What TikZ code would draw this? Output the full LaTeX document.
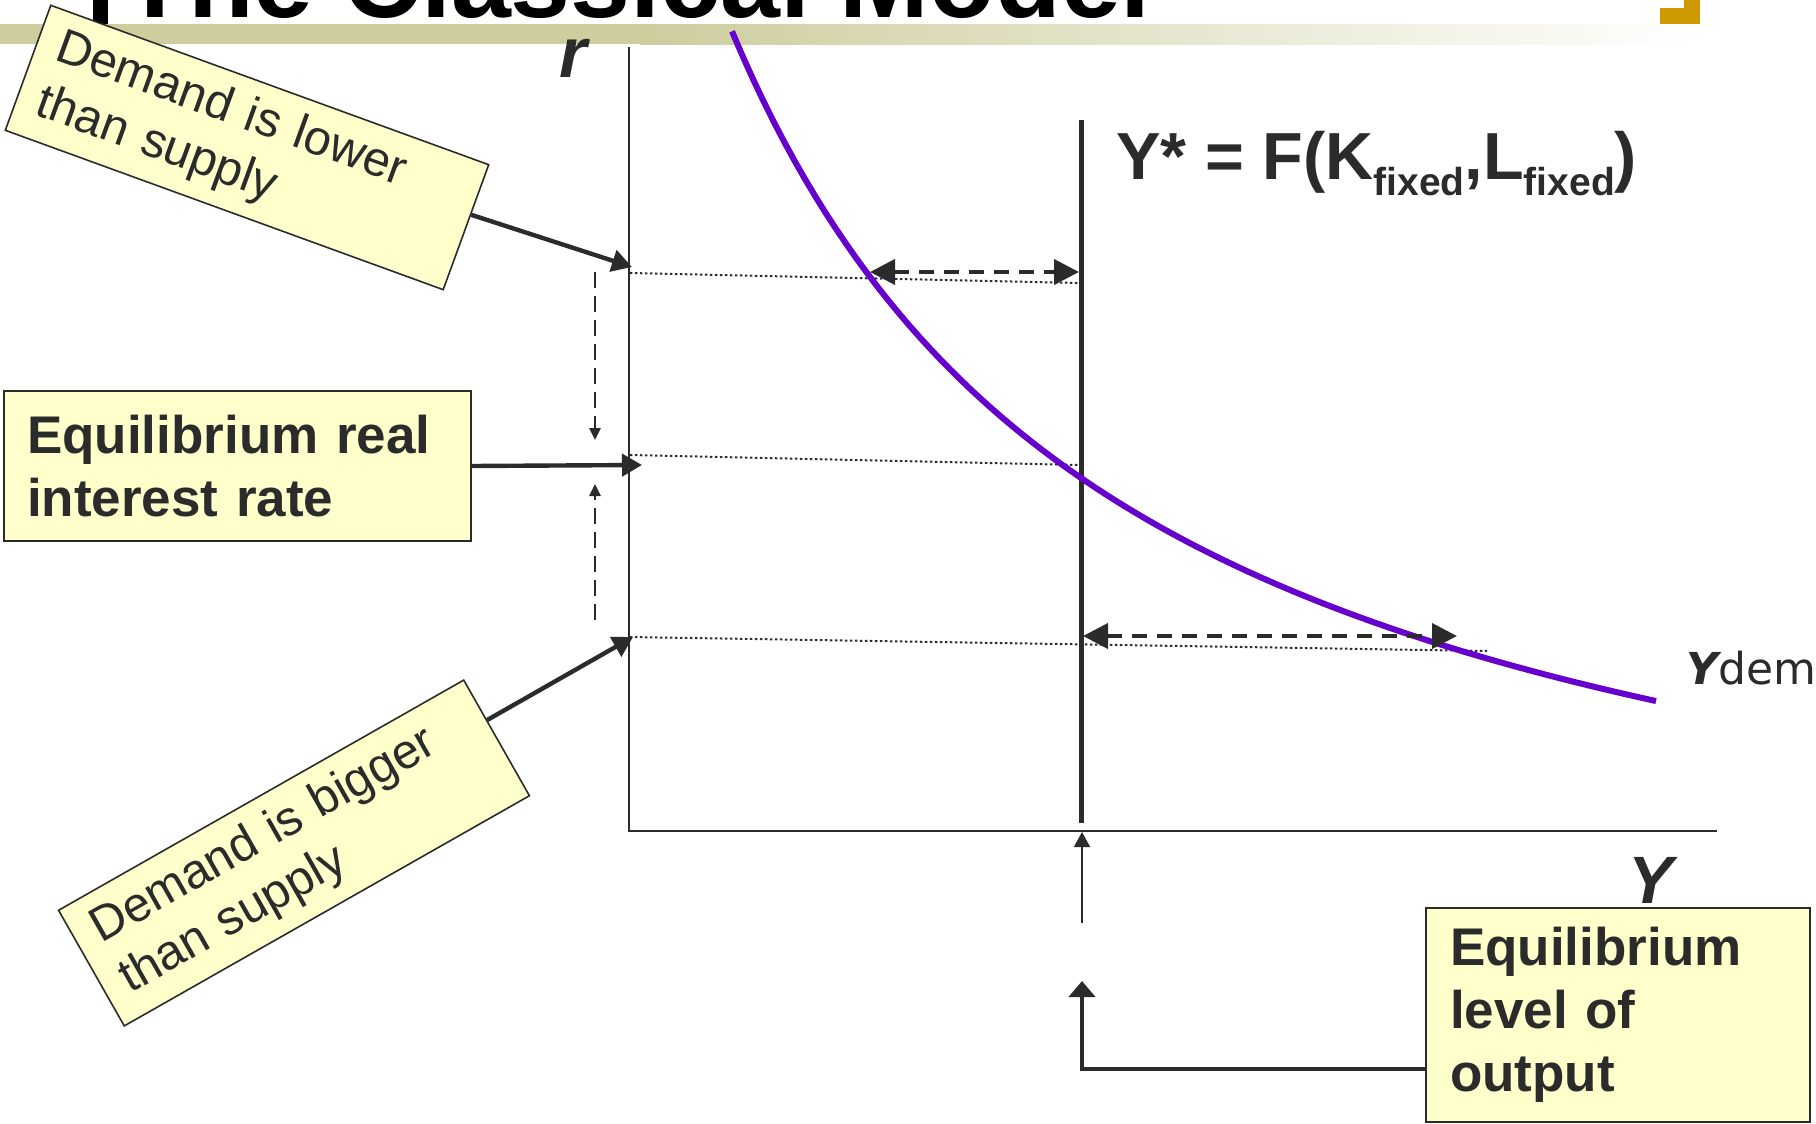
\documentclass[tikz,border=0pt]{standalone}
\usepackage{fontspec}
\setmainfont{Liberation Sans}
\newfontfamily\demfont{DejaVu Sans}
\usetikzlibrary{arrows.meta,calc}

\definecolor{ink}{HTML}{2B2B2B}
\definecolor{notefill}{HTML}{FFFFCC}
\definecolor{ydcurve}{HTML}{6600CC}
\definecolor{barolive}{HTML}{CDCD9E}
\definecolor{tabgold}{HTML}{CC9900}

\newcommand{\fx}{\raisebox{-8pt}{\fontsize{19.5}{19.5}\selectfont fixed}}

\begin{document}
\begin{tikzpicture}[x=0.5pt,y=-0.5pt,
	note/.style={draw=ink,line width=0.8pt,fill=notefill,text=ink,align=left,inner sep=0pt},
	slantnote/.style={note,font=\fontsize{24.4}{29}\selectfont,minimum width=233pt,minimum height=66.5pt,text width=212pt},
	boldnote/.style={note,font=\bfseries\fontsize{26.5}{31.5}\selectfont},
	conn/.style={draw=ink,line width=2.2pt,-{Triangle[length=10pt,width=11pt]}},
	gap/.style={draw=ink,line width=2pt,dash pattern=on 7.5pt off 5pt,{Triangle[length=12.5pt,width=12.5pt]}-{Triangle[length=12.5pt,width=12.5pt]}},
	nudge/.style={draw=ink,line width=1.3pt,dash pattern=on 8pt off 4pt,-{Triangle[length=6pt,width=5.5pt]}},
	guide/.style={draw=ink,line width=1pt,dash pattern=on 1.2pt off 1.3pt},
	axis/.style={draw=ink,line width=1pt}]

\useasboundingbox (0,0) rectangle (1816,1124);

\fill[barolive] (0,24) rectangle (640,44);
\shade[left color=barolive,right color=white] (640,24) rectangle (1700,44);
\node[anchor=base west,inner sep=0pt,font=\bfseries\fontsize{53.8}{60}\selectfont] (title) at (122,18) {The Classical Model};
\fill[black] (93,0) rectangle (108,24);
\fill[tabgold] (1660,8) rectangle (1700,24);
\fill[tabgold] (1684,0) rectangle (1700,8);

\draw[axis] (629,47) -- (629,831) -- (1717,831);
\node[anchor=base,inner sep=0pt,text=ink,font=\bfseries\itshape\fontsize{35.5}{40}\selectfont] (rlab) at (573,77) {r};
\node[anchor=base,inner sep=0pt,text=ink,font=\bfseries\itshape\fontsize{33.5}{40}\selectfont] (ylab) at (1651,903) {Y};

\draw[ink,line width=2.5pt] (1081,120) -- (1081,823);
\node[anchor=base west,inner sep=0pt,text=ink,font=\bfseries\fontsize{33.3}{38}\selectfont] (ystar) at (1116,179) {Y* = F(K\fx,L\fx)};

\draw[guide] (630,273) -- (1079,283);
\draw[guide] (630,455) -- (1079,465);
\draw[guide] (630,637) -- (1487,651);

\draw[ydcurve,line width=3pt] plot[domain=732:1656,samples=90] (\x,{992.4-386.323/((\x-330)/1000)});
\node[anchor=base west,inner sep=0pt,text=ink,font=\demfont\fontsize{22}{26}\selectfont] (ydem) at (1686,684) {{\bfseries\itshape Y}dem};

\draw[gap] (870,272) -- (1079,272);
\draw[gap] (1083,636) -- (1457,636);
\draw[nudge] (595,272) -- (595,440);
\draw[nudge] (595,620) -- (595,484);

\coordinate (rhi) at (632,267);
\coordinate (req) at (642,465);
\coordinate (rlo) at (633,637);
\coordinate (ytip) at (1082,981);
\coordinate (yfoot) at (1082,923);
\coordinate (yaxis) at (1082,832);

\node[slantnote,rotate=-20] (low) at (247,147.5) {Demand is lower\\than supply};
\node[boldnote,minimum width=233.5pt,minimum height=75pt,text width=210.5pt] (eqr) at (237.5,466) {Equilibrium real\\interest rate};
\node[slantnote,rotate=29.6] (big) at (294,853) {Demand is bigger\\than supply};
\node[boldnote,minimum width=192pt,minimum height=107pt,text width=168pt] (eqy) at (1618,1015) {Equilibrium\\level of\\output};

\draw[conn] ($(low.north east)!0.4!(low.south east)$) -- (rhi);
\draw[conn] (eqr.east) -- (req);
\draw[conn] ($(big.north east)!0.35!(big.south east)$) -- (rlo);
\draw[conn,-{Triangle[length=8pt,width=13pt]}] ([yshift=-27pt]eqy.west) -| (ytip);
\draw[ink,line width=0.8pt,-{Triangle[length=7.5pt,width=8pt]}] (yfoot) -- (yaxis);
\end{tikzpicture}
\end{document}
